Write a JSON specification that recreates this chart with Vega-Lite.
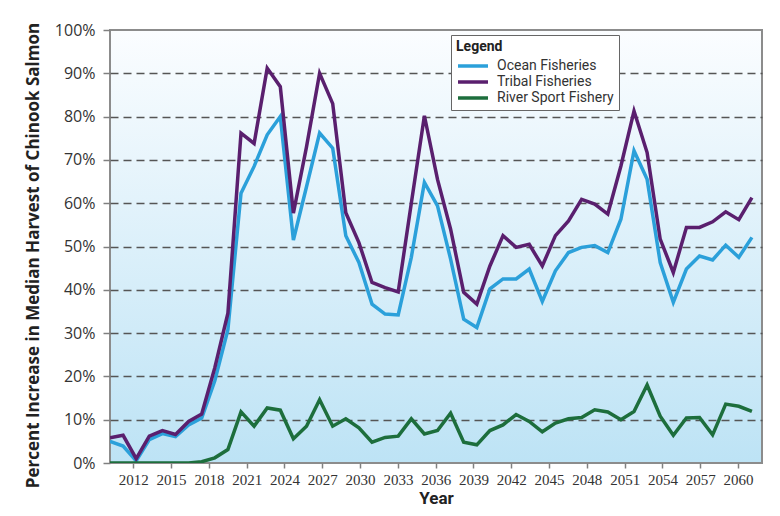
{
  "$schema": "https://vega.github.io/schema/vega-lite/v6.json",
  "width": 652,
  "height": 433,
  "autosize": {"type": "none"},
  "padding": {"left": 110, "top": 30, "right": 18, "bottom": 53},
  "background": "white",
  "config": {
    "font": "Roboto",
    "view": {
      "stroke": "#8c8c8c",
      "strokeWidth": 2,
      "fill": {"gradient": "linear", "x1": 0, "y1": 0, "x2": 0, "y2": 1,
        "stops": [{"offset": 0, "color": "#fbfdff"}, {"offset": 1, "color": "#bde3f5"}]}
    }
  },
  "data": {"values": [
    {"year":2012,"series":"Ocean Fisheries","value":5.0},{"year":2012,"series":"Tribal Fisheries","value":5.8},{"year":2012,"series":"River Sport Fishery","value":0},
    {"year":2013,"series":"Ocean Fisheries","value":3.9},{"year":2013,"series":"Tribal Fisheries","value":6.4},{"year":2013,"series":"River Sport Fishery","value":0},
    {"year":2014,"series":"Ocean Fisheries","value":0.5},{"year":2014,"series":"Tribal Fisheries","value":1.0},{"year":2014,"series":"River Sport Fishery","value":0},
    {"year":2015,"series":"Ocean Fisheries","value":5.4},{"year":2015,"series":"Tribal Fisheries","value":6.2},{"year":2015,"series":"River Sport Fishery","value":0},
    {"year":2016,"series":"Ocean Fisheries","value":6.8},{"year":2016,"series":"Tribal Fisheries","value":7.5},{"year":2016,"series":"River Sport Fishery","value":0},
    {"year":2017,"series":"Ocean Fisheries","value":6.1},{"year":2017,"series":"Tribal Fisheries","value":6.6},{"year":2017,"series":"River Sport Fishery","value":0},
    {"year":2018,"series":"Ocean Fisheries","value":8.8},{"year":2018,"series":"Tribal Fisheries","value":9.6},{"year":2018,"series":"River Sport Fishery","value":0},
    {"year":2019,"series":"Ocean Fisheries","value":10.4},{"year":2019,"series":"Tribal Fisheries","value":11.3},{"year":2019,"series":"River Sport Fishery","value":0.3},
    {"year":2020,"series":"Ocean Fisheries","value":19.0},{"year":2020,"series":"Tribal Fisheries","value":22.0},{"year":2020,"series":"River Sport Fishery","value":1.2},
    {"year":2021,"series":"Ocean Fisheries","value":30.8},{"year":2021,"series":"Tribal Fisheries","value":34.6},{"year":2021,"series":"River Sport Fishery","value":3.1},
    {"year":2022,"series":"Ocean Fisheries","value":62.3},{"year":2022,"series":"Tribal Fisheries","value":76.2},{"year":2022,"series":"River Sport Fishery","value":11.8},
    {"year":2023,"series":"Ocean Fisheries","value":68.5},{"year":2023,"series":"Tribal Fisheries","value":73.8},{"year":2023,"series":"River Sport Fishery","value":8.5},
    {"year":2024,"series":"Ocean Fisheries","value":75.8},{"year":2024,"series":"Tribal Fisheries","value":91.2},{"year":2024,"series":"River Sport Fishery","value":12.7},
    {"year":2025,"series":"Ocean Fisheries","value":80.0},{"year":2025,"series":"Tribal Fisheries","value":86.9},{"year":2025,"series":"River Sport Fishery","value":12.2},
    {"year":2026,"series":"Ocean Fisheries","value":51.5},{"year":2026,"series":"Tribal Fisheries","value":57.7},{"year":2026,"series":"River Sport Fishery","value":5.6},
    {"year":2027,"series":"Ocean Fisheries","value":63.8},{"year":2027,"series":"Tribal Fisheries","value":73.0},{"year":2027,"series":"River Sport Fishery","value":8.5},
    {"year":2028,"series":"Ocean Fisheries","value":76.2},{"year":2028,"series":"Tribal Fisheries","value":90.0},{"year":2028,"series":"River Sport Fishery","value":14.6},
    {"year":2029,"series":"Ocean Fisheries","value":72.7},{"year":2029,"series":"Tribal Fisheries","value":83.0},{"year":2029,"series":"River Sport Fishery","value":8.5},
    {"year":2030,"series":"Ocean Fisheries","value":52.5},{"year":2030,"series":"Tribal Fisheries","value":57.8},{"year":2030,"series":"River Sport Fishery","value":10.2},
    {"year":2031,"series":"Ocean Fisheries","value":46.3},{"year":2031,"series":"Tribal Fisheries","value":50.9},{"year":2031,"series":"River Sport Fishery","value":8.1},
    {"year":2032,"series":"Ocean Fisheries","value":36.7},{"year":2032,"series":"Tribal Fisheries","value":41.7},{"year":2032,"series":"River Sport Fishery","value":4.8},
    {"year":2033,"series":"Ocean Fisheries","value":34.4},{"year":2033,"series":"Tribal Fisheries","value":40.5},{"year":2033,"series":"River Sport Fishery","value":5.9},
    {"year":2034,"series":"Ocean Fisheries","value":34.2},{"year":2034,"series":"Tribal Fisheries","value":39.5},{"year":2034,"series":"River Sport Fishery","value":6.2},
    {"year":2035,"series":"Ocean Fisheries","value":47.5},{"year":2035,"series":"Tribal Fisheries","value":60.0},{"year":2035,"series":"River Sport Fishery","value":10.2},
    {"year":2036,"series":"Ocean Fisheries","value":64.8},{"year":2036,"series":"Tribal Fisheries","value":80.2},{"year":2036,"series":"River Sport Fishery","value":6.7},
    {"year":2037,"series":"Ocean Fisheries","value":59.4},{"year":2037,"series":"Tribal Fisheries","value":65.5},{"year":2037,"series":"River Sport Fishery","value":7.5},
    {"year":2038,"series":"Ocean Fisheries","value":47.1},{"year":2038,"series":"Tribal Fisheries","value":54.0},{"year":2038,"series":"River Sport Fishery","value":11.5},
    {"year":2039,"series":"Ocean Fisheries","value":33.2},{"year":2039,"series":"Tribal Fisheries","value":39.4},{"year":2039,"series":"River Sport Fishery","value":4.8},
    {"year":2040,"series":"Ocean Fisheries","value":31.3},{"year":2040,"series":"Tribal Fisheries","value":36.7},{"year":2040,"series":"River Sport Fishery","value":4.2},
    {"year":2041,"series":"Ocean Fisheries","value":40.2},{"year":2041,"series":"Tribal Fisheries","value":45.5},{"year":2041,"series":"River Sport Fishery","value":7.5},
    {"year":2042,"series":"Ocean Fisheries","value":42.5},{"year":2042,"series":"Tribal Fisheries","value":52.5},{"year":2042,"series":"River Sport Fishery","value":8.8},
    {"year":2043,"series":"Ocean Fisheries","value":42.5},{"year":2043,"series":"Tribal Fisheries","value":49.8},{"year":2043,"series":"River Sport Fishery","value":11.2},
    {"year":2044,"series":"Ocean Fisheries","value":44.8},{"year":2044,"series":"Tribal Fisheries","value":50.5},{"year":2044,"series":"River Sport Fishery","value":9.6},
    {"year":2045,"series":"Ocean Fisheries","value":37.3},{"year":2045,"series":"Tribal Fisheries","value":45.5},{"year":2045,"series":"River Sport Fishery","value":7.2},
    {"year":2046,"series":"Ocean Fisheries","value":44.4},{"year":2046,"series":"Tribal Fisheries","value":52.5},{"year":2046,"series":"River Sport Fishery","value":9.2},
    {"year":2047,"series":"Ocean Fisheries","value":48.6},{"year":2047,"series":"Tribal Fisheries","value":55.9},{"year":2047,"series":"River Sport Fishery","value":10.2},
    {"year":2048,"series":"Ocean Fisheries","value":49.8},{"year":2048,"series":"Tribal Fisheries","value":60.9},{"year":2048,"series":"River Sport Fishery","value":10.5},
    {"year":2049,"series":"Ocean Fisheries","value":50.2},{"year":2049,"series":"Tribal Fisheries","value":59.8},{"year":2049,"series":"River Sport Fishery","value":12.3},
    {"year":2050,"series":"Ocean Fisheries","value":48.6},{"year":2050,"series":"Tribal Fisheries","value":57.5},{"year":2050,"series":"River Sport Fishery","value":11.8},
    {"year":2051,"series":"Ocean Fisheries","value":56.3},{"year":2051,"series":"Tribal Fisheries","value":68.6},{"year":2051,"series":"River Sport Fishery","value":10.0},
    {"year":2052,"series":"Ocean Fisheries","value":72.1},{"year":2052,"series":"Tribal Fisheries","value":81.3},{"year":2052,"series":"River Sport Fishery","value":11.9},
    {"year":2053,"series":"Ocean Fisheries","value":65.5},{"year":2053,"series":"Tribal Fisheries","value":71.7},{"year":2053,"series":"River Sport Fishery","value":18.0},
    {"year":2054,"series":"Ocean Fisheries","value":46.3},{"year":2054,"series":"Tribal Fisheries","value":51.7},{"year":2054,"series":"River Sport Fishery","value":10.8},
    {"year":2055,"series":"Ocean Fisheries","value":37.1},{"year":2055,"series":"Tribal Fisheries","value":44.0},{"year":2055,"series":"River Sport Fishery","value":6.4},
    {"year":2056,"series":"Ocean Fisheries","value":44.8},{"year":2056,"series":"Tribal Fisheries","value":54.4},{"year":2056,"series":"River Sport Fishery","value":10.4},
    {"year":2057,"series":"Ocean Fisheries","value":47.8},{"year":2057,"series":"Tribal Fisheries","value":54.4},{"year":2057,"series":"River Sport Fishery","value":10.5},
    {"year":2058,"series":"Ocean Fisheries","value":46.9},{"year":2058,"series":"Tribal Fisheries","value":55.7},{"year":2058,"series":"River Sport Fishery","value":6.5},
    {"year":2059,"series":"Ocean Fisheries","value":50.3},{"year":2059,"series":"Tribal Fisheries","value":58.0},{"year":2059,"series":"River Sport Fishery","value":13.6},
    {"year":2060,"series":"Ocean Fisheries","value":47.5},{"year":2060,"series":"Tribal Fisheries","value":56.2},{"year":2060,"series":"River Sport Fishery","value":13.1},
    {"year":2061,"series":"Ocean Fisheries","value":52.1},{"year":2061,"series":"Tribal Fisheries","value":61.3},{"year":2061,"series":"River Sport Fishery","value":11.9}
  ]},
  "mark": {"type": "line", "strokeWidth": 3.5, "strokeJoin": "miter", "clip": true},
  "encoding": {
    "x": {
      "field": "year", "type": "quantitative",
      "scale": {"domain": [2012, 2061.77], "nice": false, "zero": false},
      "axis": {
        "title": "Year",
        "values": [2013.78, 2016.665, 2019.55, 2022.435, 2025.32, 2028.205, 2031.09, 2033.975, 2036.86, 2039.745, 2042.63, 2045.515, 2048.4, 2051.285, 2054.17, 2057.055, 2059.94],
        "labelExpr": "'' + (2012 + 3 * round((datum.value - 2013.78) / 2.885))",
        "grid": false, "domain": false,
        "tickColor": "#808080", "tickSize": 5, "tickWidth": 1.5,
        "labelFont": "Liberation Sans Narrow", "labelFontSize": 15, "labelColor": "#333333", "labelPadding": 4,
        "labelFlush": false,
        "titleFont": "Roboto", "titleFontSize": 17, "titleFontWeight": "bold", "titleColor": "#222222",
        "titleY": 40, "titleBaseline": "alphabetic"
      }
    },
    "y": {
      "field": "value", "type": "quantitative",
      "scale": {"domain": [0, 100], "nice": false},
      "axis": {
        "title": "Percent Increase in Median Harvest of Chinook Salmon",
        "values": [0, 10, 20, 30, 40, 50, 60, 70, 80, 90, 100],
        "labelExpr": "datum.value + '%'",
        "domain": false,
        "grid": true, "gridColor": "#555555", "gridDash": [8, 5], "gridWidth": 1.3,
        "gridOpacity": {"condition": {"test": "datum.value == 0 || datum.value == 100", "value": 0}, "value": 1},
        "tickColor": "#808080", "tickSize": 7, "tickWidth": 1.5,
        "labelFont": "Open Sans", "labelFontSize": 16, "labelColor": "#333333", "labelPadding": 8,
        "titleFont": "Open Sans", "titleFontSize": 17, "titleFontWeight": "bold", "titleColor": "#222222",
        "titleAngle": -90, "titleX": -77, "titleY": 225, "titleAlign": "center", "titleBaseline": "middle"
      }
    },
    "color": {
      "field": "series", "type": "nominal",
      "scale": {
        "domain": ["Ocean Fisheries", "Tribal Fisheries", "River Sport Fishery"],
        "range": ["#2ba0da", "#5a1f6e", "#1d6e3c"]
      },
      "legend": {
        "title": "Legend", "orient": "none", "legendX": 341, "legendY": 5,
        "fillColor": "white", "strokeColor": "#666666", "padding": 5,
        "symbolType": "M-1,0H5", "symbolSize": 100, "symbolStrokeWidth": 3.5,
        "labelFont": "Roboto", "labelFontSize": 14, "labelColor": "#333333", "labelOffset": 27,
        "titleFont": "Roboto", "titleFontSize": 14, "titleFontWeight": "bold", "titleColor": "#222222", "titlePadding": 5,
        "rowPadding": 2
      }
    }
  }
}
